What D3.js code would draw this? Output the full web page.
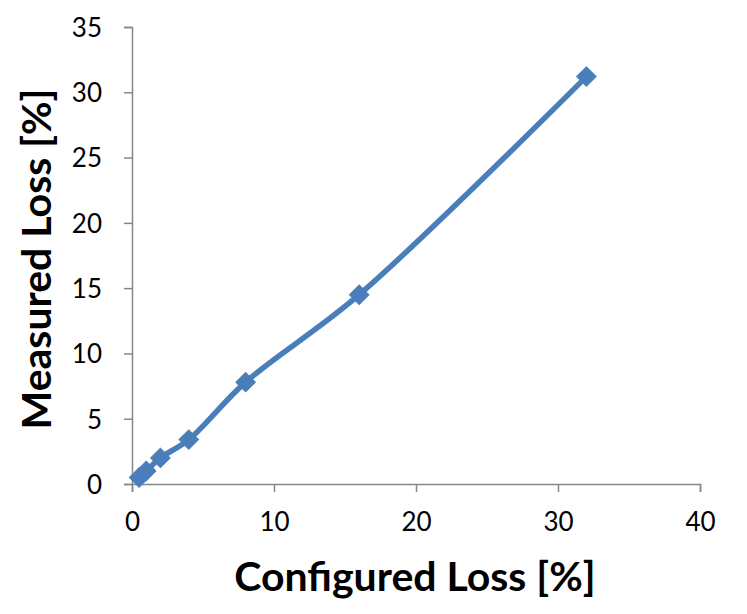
<!DOCTYPE html>
<html>
<head>
<meta charset="utf-8">
<script src="https://cdn.jsdelivr.net/npm/d3@7"></script>
<style>
  body { margin: 0; background: #fff; }
  svg { display: block; font-family: Lato, "Open Sans", sans-serif; }
</style>
</head>
<body>
<div id="chart"></div>
<script>
// configured vs measured packet loss
const configured = [0.5, 1, 2, 4, 8, 16, 32]
const measured = [0.5, 1.0, 2.0, 3.4, 7.8, 14.5, 31.2]
const xTicks = [0, 10, 20, 30, 40]
const yTicks = [0, 5, 10, 15, 20, 25, 30, 35]

const width = 747, height = 614
const margin = { top: 27, right: 47, bottom: 130, left: 132 }
const innerW = width - margin.left - margin.right
const innerH = height - margin.top - margin.bottom

const svg = d3.select("#chart").append("svg")
  .attr("width", width)
  .attr("height", height)

const g = svg.append("g").attr("transform", `translate(${margin.left},${margin.top})`)

const x = d3.scaleLinear().domain([0, 40]).range([0, innerW])
const y = d3.scaleLinear().domain([0, 35]).range([innerH, 0])

const axisColor = "#878787"

const xAxis = g.append("g")
  .attr("transform", `translate(0,${innerH})`)
  .call(d3.axisBottom(x).tickValues(xTicks).tickSize(8).tickPadding(21))
const yAxis = g.append("g")
  .call(d3.axisLeft(y).tickValues(yTicks).tickSize(8).tickPadding(22))

;[xAxis, yAxis].forEach(a => {
  a.selectAll(".domain, .tick line").attr("stroke", axisColor).attr("stroke-width", 1.5)
  a.selectAll("text")
    .attr("font-size", "26px")
    .attr("fill", "#000")
    .attr("font-family", "Lato, 'Open Sans', sans-serif")
})
yAxis.selectAll("text").attr("dy", "0.36em")

const pts = configured.map((c, i) => [c, measured[i]])

const line = d3.line()
  .x(d => x(d[0]))
  .y(d => y(d[1]))
  .curve(d3.curveCatmullRom.alpha(0.5))

g.append("path")
  .datum(pts)
  .attr("fill", "none")
  .attr("stroke", "#4a7ebb")
  .attr("stroke-width", 5.5)
  .attr("stroke-linejoin", "round")
  .attr("d", line)

const diamond = d3.symbol().type(d3.symbolSquare).size(190)
g.selectAll(".pt")
  .data(pts)
  .join("path")
  .attr("class", "pt")
  .attr("d", diamond)
  .attr("transform", d => `translate(${x(d[0])},${y(d[1])}) rotate(45)`)
  .attr("fill", "#4a7ebb")
  .attr("stroke", "#4a7ebb")
  .attr("stroke-width", 1)

svg.append("text")
  .attr("x", 415)
  .attr("y", 591)
  .attr("text-anchor", "middle")
  .attr("font-size", "41px")
  .attr("font-weight", "bold")
  .text("Configured Loss [%]")

svg.append("text")
  .attr("transform", `translate(51,259) rotate(-90)`)
  .attr("text-anchor", "middle")
  .attr("font-size", "41px")
  .attr("font-weight", "bold")
  .text("Measured Loss [%]")
</script>
</body>
</html>
